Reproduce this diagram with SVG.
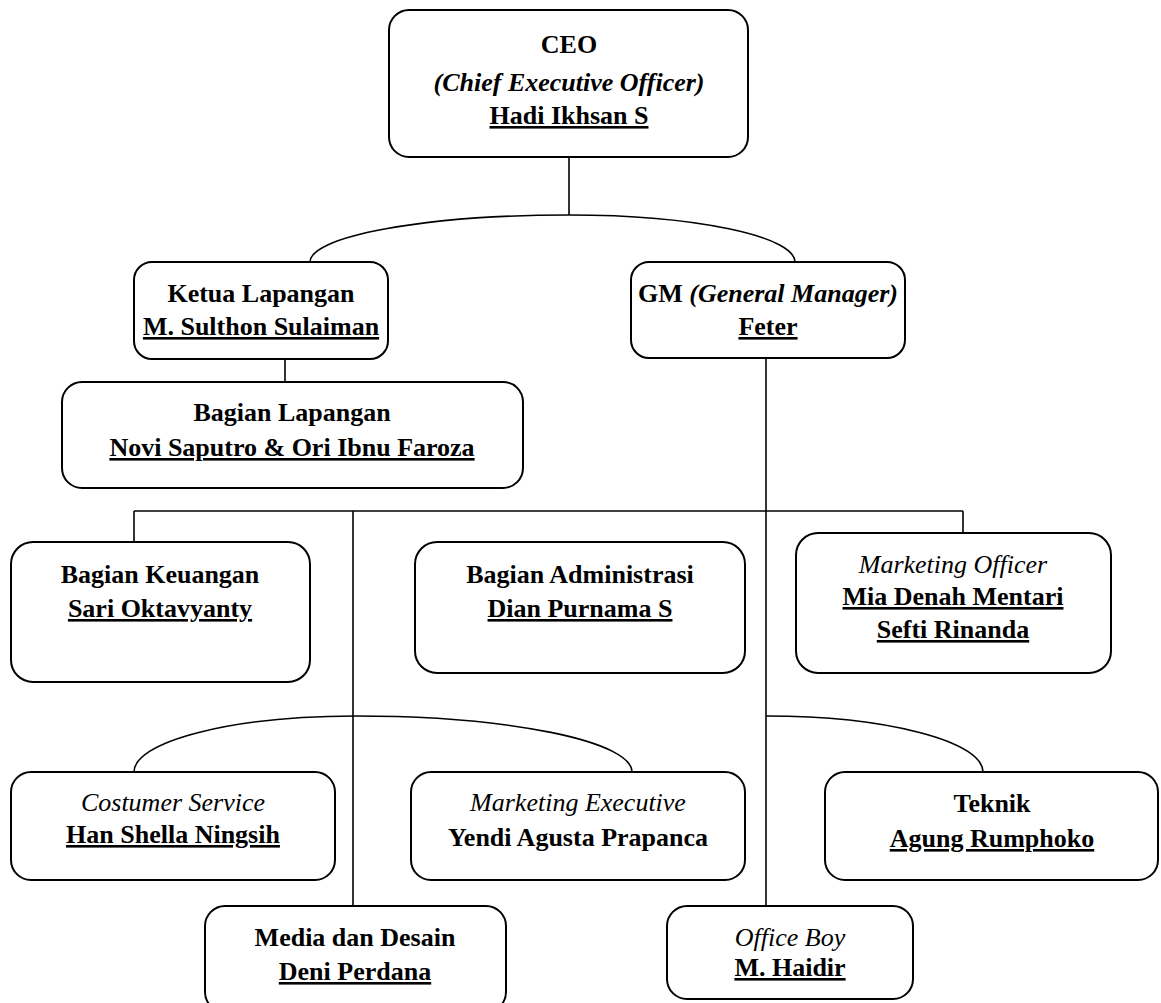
<svg xmlns="http://www.w3.org/2000/svg" width="1161" height="1003" viewBox="0 0 1161 1003">
<style>
.box{fill:#fff;stroke:#000;stroke-width:2}
.con path,.con line{fill:none;stroke:#000;stroke-width:1.6}
text{font-family:"Liberation Serif","Times New Roman",serif;font-size:26px;text-anchor:middle;fill:#000}
.b{font-weight:bold}
.i{font-style:italic;font-weight:normal}
.bi{font-style:italic;font-weight:bold}
.u{text-decoration:underline}
</style>
<rect width="1161" height="1003" fill="#fff"/>
<g class="con" id="connectors">
<line x1="569" y1="157" x2="569" y2="215"/>
<path d="M310,262 A259,47 0 0 1 569,215 A226,47 0 0 1 795,262"/>
<line x1="285" y1="359" x2="285" y2="382"/>
<line x1="766" y1="358" x2="766" y2="906"/>
<line x1="134" y1="511" x2="963" y2="511"/>
<line x1="134" y1="511" x2="134" y2="542"/>
<line x1="963" y1="511" x2="963" y2="533"/>
<line x1="353" y1="511" x2="353" y2="906"/>
<path d="M134,772 A221,56 0 0 1 355,716 A277,56 0 0 1 632,772"/>
<path d="M766,716 A217,56 0 0 1 983,772"/>
</g>
<g id="ceo">
<rect class="box" x="389" y="10" width="359" height="147" rx="20"/>
<text class="b" x="569" y="53">CEO</text>
<text class="bi" x="569" y="91">(Chief Executive Officer)</text>
<text class="b u" x="569" y="124">Hadi Ikhsan S</text>
</g>
<g id="ketua-lapangan">
<rect class="box" x="134" y="262" width="254" height="97" rx="18"/>
<text class="b" x="261" y="302">Ketua Lapangan</text>
<text class="b u" x="261" y="335">M. Sulthon Sulaiman</text>
</g>
<g id="gm">
<rect class="box" x="631" y="262" width="274" height="96" rx="18"/>
<text class="b" x="768" y="302">GM <tspan class="bi">(General Manager)</tspan></text>
<text class="b u" x="768" y="335">Feter</text>
</g>
<g id="bagian-lapangan">
<rect class="box" x="62" y="382" width="461" height="106" rx="20"/>
<text class="b" x="292" y="421">Bagian Lapangan</text>
<text class="b u" x="292" y="456">Novi Saputro &amp; Ori Ibnu Faroza</text>
</g>
<g id="bagian-keuangan">
<rect class="box" x="11" y="542" width="299" height="140" rx="22"/>
<text class="b" x="160" y="583">Bagian Keuangan</text>
<text class="b u" x="160" y="617">Sari Oktavyanty</text>
</g>
<g id="bagian-administrasi">
<rect class="box" x="415" y="542" width="330" height="131" rx="22"/>
<text class="b" x="580" y="583">Bagian Administrasi</text>
<text class="b u" x="580" y="617">Dian Purnama S</text>
</g>
<g id="marketing-officer">
<rect class="box" x="796" y="533" width="315" height="140" rx="22"/>
<text class="i" x="953" y="573">Marketing Officer</text>
<text class="b u" x="953" y="605">Mia Denah Mentari</text>
<text class="b u" x="953" y="638">Sefti Rinanda</text>
</g>
<g id="costumer-service">
<rect class="box" x="11" y="772" width="324" height="108" rx="20"/>
<text class="i" x="173" y="811">Costumer Service</text>
<text class="b u" x="173" y="843">Han Shella Ningsih</text>
</g>
<g id="marketing-executive">
<rect class="box" x="411" y="772" width="334" height="108" rx="20"/>
<text class="i" x="578" y="811">Marketing Executive</text>
<text class="b" x="578" y="846">Yendi Agusta Prapanca</text>
</g>
<g id="teknik">
<rect class="box" x="825" y="772" width="333" height="108" rx="20"/>
<text class="b" x="992" y="812">Teknik</text>
<text class="b u" x="992" y="847">Agung Rumphoko</text>
</g>
<g id="media-desain">
<rect class="box" x="205" y="906" width="301" height="106" rx="20"/>
<text class="b" x="355" y="946">Media dan Desain</text>
<text class="b u" x="355" y="980">Deni Perdana</text>
</g>
<g id="office-boy">
<rect class="box" x="667" y="906" width="246" height="93" rx="20"/>
<text class="i" x="790" y="946">Office Boy</text>
<text class="b u" x="790" y="976">M. Haidir</text>
</g>
</svg>
